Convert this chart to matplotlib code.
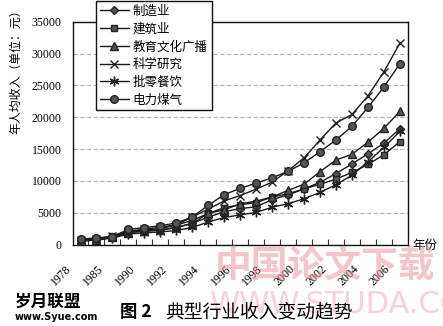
import matplotlib
matplotlib.use('Agg')

import matplotlib.pyplot as plt
import matplotlib.transforms as mtransforms

plt.rcParams['font.family'] = ['Liberation Serif', 'Noto Sans CJK SC']

# x axis categories (one point per year, labels on every other one)
years = ['1978', '1980', '1985', '1989', '1990', '1991', '1992', '1993', '1994', '1995', '1996',
         '1997', '1998', '1999', '2000', '2001', '2002', '2003', '2004', '2005', '2006']

manufacturing = [597, 752, 1112, 1900, 2073, 2289, 2635, 3348, 4283, 5169, 5642,
                 5933, 7064, 7794, 8750, 9774, 11152, 12671, 14251, 15934, 18225]
construction = [714, 855, 1362, 2050, 2284, 2482, 3066, 3779, 4894, 5785, 6249,
                6593, 7456, 7982, 8735, 9484, 10279, 11328, 12578, 14112, 16164]
education = [545, 700, 1166, 1870, 2117, 2243, 2715, 3278, 4923, 5435, 6406,
             6813, 7474, 8510, 9482, 11452, 13290, 14189, 16085, 18259, 20918]
science = [669, 851, 1272, 2100, 2403, 2700, 3115, 4320, 5573, 6846, 7700,
           8700, 9800, 11601, 13620, 16437, 19113, 20442, 23351, 27155, 31644]
retail = [551, 692, 1007, 1660, 1818, 1981, 2204, 2679, 3537, 4248, 4661,
          5045, 5865, 6417, 7190, 8192, 9398, 10894, 13012, 15256, 17796]
power = [850, 1035, 1239, 2380, 2656, 2942, 3392, 4319, 6155, 7843, 8816,
         9649, 10478, 11513, 12830, 14590, 16440, 18574, 21543, 24750, 28424]

series = [
    ('制造业', manufacturing, 'D', 4),
    ('建筑业', construction, 's', 5),
    ('教育文化广播', education, '^', 6),
    ('科学研究', science, 'x', 6),
    ('批零餐饮', retail, (6, 2, 0), 7),
    ('电力煤气', power, 'o', 5.5),
]

cjk = ['Noto Sans CJK SC', 'DejaVu Sans']

fig = plt.figure(figsize=(4.43, 3.26), dpi=100)
ax = fig.add_axes([0.1637, 0.25, 0.757, 0.683])

xs = list(range(len(years)))
for name, vals, mk, ms in series:
    ax.plot(xs, vals, color='#1a1a1a', linewidth=1.0, marker=mk, markersize=ms,
            markerfacecolor='#555555', markeredgecolor='#222222', markeredgewidth=1.0,
            label=name, zorder=3)

ax.set_xlim(-0.5, len(years) - 0.5)
ax.set_ylim(0, 35000)
ax.set_yticks(range(0, 35001, 5000))
ax.tick_params(axis='y', length=0, pad=8, labelsize=8.5)
ax.yaxis.grid(True, linestyle=(0, (4, 2)), color='#b0b0b0', linewidth=0.8)
ax.set_axisbelow(True)

# labels on every second year, tick marks on the category boundaries
ax.set_xticks(xs[::2])
ax.set_xticklabels(years[::2], rotation=45, ha='right', fontsize=8.5)
ax.set_xticks([x + 0.5 for x in xs[:-1]], minor=True)
ax.tick_params(axis='x', which='major', length=0, pad=13)
ax.tick_params(axis='x', which='minor', direction='in', length=4, width=0.8, color='#333333')
offset = mtransforms.ScaledTranslation(-7 / 100, 0, fig.dpi_scale_trans)
for lbl in ax.get_xticklabels():
    lbl.set_transform(lbl.get_transform() + offset)

for sp in ax.spines.values():
    sp.set_color('#111111')
    sp.set_linewidth(1.0)

ax.text(-0.17, 1.085, '年人均收入（单位：元）', transform=ax.transAxes, rotation=90,
        ha='center', va='top', fontsize=8.6, family=cjk)
ax.text(1.012, -0.005, '年份', transform=ax.transAxes, ha='left', va='center',
        fontsize=9, family=cjk)

leg = ax.legend(loc='upper left', bbox_to_anchor=(96 / 443, 1 - 1 / 326),
                bbox_transform=fig.transFigure, borderaxespad=0, frameon=True,
                fancybox=False, edgecolor='#111111', framealpha=1,
                prop={'family': cjk, 'size': 9}, handlelength=2.3, handletextpad=0.35,
                labelspacing=0.38, borderpad=0.3)
leg.get_frame().set_linewidth(1.0)
leg.set_zorder(5)

# caption
fig.text(0.272, 0.042, '图 2', ha='left', va='center', fontsize=12.5, fontweight='bold', family=cjk)
fig.text(0.372, 0.042, '典型行业收入变动趋势', ha='left', va='center', fontsize=13.5, family=cjk)

# site watermarks
fig.text(0.485, 0.18, '中国论文下载', ha='left', va='center', fontsize=26.5, fontweight='bold',
         family=cjk, color='#ee8c98', alpha=0.5, zorder=10)
fig.text(0.474, 0.065, 'WWW.STUDA.COM', ha='left', va='center', fontsize=22,
         family='DejaVu Sans', color='#f2b4bb', alpha=0.6, zorder=1)
fig.text(0.034, 0.074, '岁月联盟', ha='left', va='center', fontsize=12, fontweight='bold', family=cjk)
fig.text(0.034, 0.028, 'www.Syue.com', ha='left', va='center', fontsize=7, fontweight='bold',
         family='DejaVu Sans')

fig.savefig('out.png', dpi=100)
